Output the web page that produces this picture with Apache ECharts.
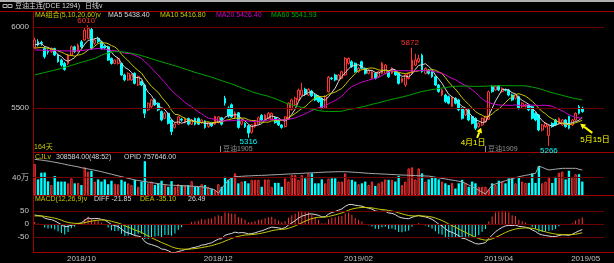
<!DOCTYPE html>
<html><head><meta charset="utf-8">
<script src="https://cdn.jsdelivr.net/npm/echarts@6/dist/echarts.min.js"></script>
<style>html,body{margin:0;padding:0;background:#000;overflow:hidden}#c{width:614px;height:263px}</style>
</head><body><div id="c"></div>
<script>
// ---------------- data ----------------
const opens = [5875,5909,5905,5868,5850,5848,5868,5827,5796,5775,5775,5827,5878,5848,5909,5920,5930,5985,5900,5930,
5909,5880,5878,5806,5775,5775,5775,5704,5673,5673,5714,5642,5663,5642,5488,5508,5550,5529,5478,5436,
5467,5426,5380,5400,5430,5410,5435,5400,5435,5435,5410,5420,5385,5405,5400,5410,5440,5560,5500,5520,
5440,5470,5400,5405,5390,5350,5385,5400,5455,5425,5435,5430,5440,5425,5395,5385,5430,5490,5520,5550,
5580,5615,5580,5605,5580,5570,5560,5500,5600,5685,5704,5673,5683,5704,5776,5786,5776,5724,5786,5745,
5714,5683,5714,5693,5714,5714,5724,5714,5724,5714,5662,5642,5683,5714,5765,5786,5826,5714,5734,5724,
5693,5642,5580,5580,5570,5510,5560,5550,5498,5457,5488,5447,5436,5385,5395,5415,5430,5632,5611,5635,
5601,5612,5611,5580,5560,5570,5508,5510,5518,5508,5467,5457,5364,5385,5330,5405,5426,5405,5395,5426,
5447,5395,5426,5508,5498];
const closes = [5920,5889,5900,5817,5845,5868,5827,5786,5765,5738,5827,5878,5848,5889,5878,5981,5992,5868,5920,5910,
5868,5870,5796,5775,5796,5806,5704,5673,5714,5704,5652,5694,5642,5467,5529,5550,5519,5488,5426,5467,
5405,5354,5400,5445,5425,5435,5400,5425,5400,5400,5425,5380,5410,5390,5447,5445,5400,5530,5450,5445,
5470,5380,5420,5385,5345,5395,5410,5440,5425,5455,5467,5467,5410,5395,5380,5445,5530,5550,5560,5610,
5611,5585,5615,5575,5550,5540,5500,5570,5690,5680,5673,5704,5724,5806,5806,5755,5724,5745,5745,5714,
5734,5724,5683,5724,5776,5765,5693,5745,5704,5652,5683,5704,5714,5796,5796,5806,5724,5745,5714,5693,
5642,5601,5611,5539,5529,5565,5529,5488,5436,5488,5426,5405,5375,5405,5436,5447,5600,5601,5632,5611,
5621,5610,5580,5549,5580,5498,5529,5518,5488,5436,5426,5364,5395,5405,5390,5385,5395,5436,5426,5385,
5375,5426,5467,5467,5478];
const lows = [5865,5880,5885,5805,5830,5840,5820,5780,5755,5730,5765,5820,5840,5845,5870,5915,5925,5860,5890,5900,
5860,5862,5790,5768,5770,5768,5698,5665,5668,5668,5645,5636,5635,5438,5480,5500,5512,5480,5418,5430,
5398,5333,5372,5395,5415,5405,5392,5395,5392,5395,5402,5372,5378,5382,5395,5405,5392,5515,5440,5440,
5432,5372,5392,5376,5316,5340,5378,5395,5418,5420,5430,5425,5402,5388,5372,5380,5425,5485,5515,5545,
5575,5575,5575,5568,5542,5532,5492,5495,5595,5672,5665,5668,5678,5700,5768,5748,5718,5718,5740,5706,
5708,5676,5676,5686,5708,5708,5686,5708,5698,5645,5655,5630,5676,5708,5758,5778,5718,5708,5706,5686,
5636,5594,5572,5532,5522,5505,5522,5480,5428,5450,5418,5398,5364,5378,5390,5410,5425,5594,5605,5604,
5595,5602,5572,5542,5552,5490,5500,5502,5480,5428,5418,5356,5356,5378,5266,5378,5388,5398,5388,5378,
5368,5388,5420,5460,5470];
const highs = [5935,5925,5915,5880,5862,5875,5872,5835,5805,5785,5835,5885,5885,5898,5920,5995,6010,5995,5930,5940,
5915,5888,5885,5812,5800,5812,5780,5712,5720,5712,5720,5700,5670,5650,5535,5556,5558,5535,5485,5475,
5472,5430,5410,5452,5440,5442,5440,5432,5440,5442,5432,5425,5415,5412,5452,5450,5445,5575,5510,5528,
5478,5475,5428,5412,5398,5402,5416,5448,5462,5462,5475,5472,5448,5430,5400,5450,5535,5558,5570,5620,
5655,5625,5622,5612,5588,5578,5565,5578,5698,5692,5712,5710,5730,5815,5812,5795,5782,5752,5792,5750,
5740,5730,5720,5730,5785,5772,5730,5752,5730,5720,5690,5710,5720,5872,5835,5830,5835,5752,5740,5730,
5700,5648,5618,5588,5576,5572,5566,5556,5505,5495,5494,5452,5442,5412,5442,5452,5608,5640,5640,5642,
5628,5620,5618,5588,5586,5576,5536,5525,5525,5514,5474,5462,5402,5412,5398,5412,5432,5442,5432,5432,
5452,5432,5474,5518,5508];
// volume, 万手
const volumes = [71.5,36,51.5,52,31.5,23,44,31,31,31,27,38.5,27,28,23,64,54,56,31,36,
31,36,25,33,26,25,35,31,27,23,35,19,31,78,27,31,23,27,33,23,
19,32,19,25,23,23,23,32,19,19,25,23,19,15,11.5,25,19,42,35,41,
50,27,31,32,27,35,35,35,19,36,36,19,28,28,19,38.5,31,46,46,35,
46,38.5,50,50,27,27,36,27,38,38.5,38.5,31,31,50,36,35,31,25,27,31,
23,31,21,27,31,36,35,35,31,44,23,31,61.5,64,36,61.5,50,31,36,42,
41,36,31,27,23,28,15,27,35,28,19,31,27,19,19,19,13,27,23,33,
31,27,38.5,38.5,27,41,31,28,28,50,28,67,27,31,42,28,42,51.5,54,36,
56,42,48,48,31];
// open interest, 万手
const openInterest = [86.0,85.6,85.2,84.8,84.3,83.8,83.2,82.6,82.0,81.3,80.6,80.0,79.4,78.8,78.0,77.4,76.8,76.2,75.6,74.9,
74.2,73.4,72.6,71.8,71.0,70.2,69.5,68.7,67.9,67.1,66.3,65.8,65.3,64.8,64.3,63.8,63.3,62.8,62.3,61.9,
61.5,61.3,61.2,61.0,60.8,60.7,60.5,60.4,60.2,60.0,59.9,59.2,58.5,57.6,56.8,53.6,58.4,62.0,66.3,68.0,
69.4,69.6,69.8,70.0,70.2,70.3,70.5,70.6,70.7,70.8,71.0,71.2,71.3,71.5,71.6,71.8,72.0,72.1,72.3,72.4,
72.6,72.8,73.0,73.1,73.3,73.5,73.6,73.8,73.9,74.0,74.1,74.2,74.2,74.2,74.0,73.8,73.6,73.4,73.2,72.9,
72.6,72.5,72.3,72.2,72.0,71.9,71.7,71.5,71.4,71.2,71.0,70.9,70.8,70.6,70.5,70.4,70.3,70.1,70.0,69.5,
68.9,68.4,67.8,67.3,66.7,66.2,65.7,65.1,64.6,63.1,61.5,59.9,58.3,56.5,54.7,52.9,57.2,61.5,62.5,63.6,
64.6,65.6,66.5,67.5,68.5,69.4,70.1,70.7,71.3,72.0,72.6,79.6,78.3,77.0,75.8,76.2,76.6,77.0,77.4,77.4,
77.4,77.4,77.4,76.5,75.76];
// moving-average values read before a full window exists
const ma5Head = [5890,5895,5898,5880];
const ma10Head = [5870,5872,5874,5872,5868,5865,5860,5852,5845];
const ma20Head = [5858,5858,5857,5857,5856,5855,5855,5854,5853,5853,5852,5852,5853,5854,5855,5857,5860,5863,5866];
const ma60Head = [5704,5709,5714,5719,5724,5729,5734,5739,5745,5751,5757,5763,5769,5776,5782,5788,5794,5800,5806,5816,
5826,5834,5840,5845,5848,5848,5847,5845,5842,5838,5834,5829,5823,5817,5811,5804,5798,5791,5785,5779,
5773,5767,5761,5755,5748,5741,5734,5727,5720,5714,5708,5702,5696,5690,5683,5676,5669,5662,5655];
// EMA12, EMA26, DEA state before the first bar
const macdSeed = [5880,5846,30];
const priceTicks = [6000,5500];
const volTicks = [40];
const macdTicks = [50,0,-50];
const monthLabels = ['2018/10','2018/12','2019/02','2019/04','2019/05'];
const monthLabelIdx = [14,55,97,139,165];
const totalSlots = 171;

// ---------------- derived indicators ----------------
function ma(n, head){
  return closes.map((c,i)=>{
    if(i < n-1) return head[i];
    let s=0; for(let k=i-n+1;k<=i;k++) s+=closes[k];
    return +(s/n).toFixed(2);
  });
}
const ma5=ma(5,ma5Head), ma10=ma(10,ma10Head), ma20=ma(20,ma20Head), ma60=ma(60,ma60Head);
const diffArr=[], deaArr=[], histArr=[];
(function(){
  let e12=macdSeed[0], e26=macdSeed[1], dea=macdSeed[2];
  closes.forEach(c=>{
    e12=e12*11/13+c*2/13; e26=e26*25/27+c*2/27;
    const d=e12-e26; dea=dea*0.8+d*0.2;
    diffArr.push(+d.toFixed(2)); deaArr.push(+dea.toFixed(2)); histArr.push(+(2*(d-dea)).toFixed(2));
  });
})();

const cats = Array.from({length: totalSlots}, (_,i)=>String(i));
const UP='#ff3232', DN='#00ffff', GRID='#6e0000', AX='#a00000';
const FONT='"Liberation Sans","Noto Sans CJK SC",sans-serif';
const SF = '7px '+FONT;

const chart = echarts.init(document.getElementById('c'), null, {renderer:'canvas'});
const hline = (vals, fmt) => ({
  silent:true, symbol:['none','none'], animation:false,
  lineStyle:{color:GRID, type:'solid', width:1},
  label:{show:true, position:'start', color:'#c8c8c8', fontSize:8, fontFamily:FONT, distance:4, formatter:p=>fmt(p.value)},
  data: vals.map(v=>({yAxis:v}))
});
const xAx = (gi, showLabel) => ({
  type:'category', gridIndex:gi, data:cats, boundaryGap:true,
  axisLine:{show:false}, axisTick:{show:false}, splitLine:{show:false},
  axisLabel: showLabel ? {
    show:true, color:'#c0c0c0', fontSize:8, fontFamily:FONT, margin:3,
    interval:(idx)=>monthLabelIdx.includes(idx),
    formatter:(v,idx)=>{const k=monthLabelIdx.indexOf(idx); return k>=0?monthLabels[k]:'';}
  } : {show:false}
});
const yAx = (gi, min, max, extra) => Object.assign({
  type:'value', gridIndex:gi, min, max, scale:false,
  axisLine:{show:true, lineStyle:{color:AX}}, axisTick:{show:false},
  axisLabel:{show:false}, splitLine:{show:false}
}, extra||{});

const option = {
  animation:false, backgroundColor:'#000',
  grid:[
    {left:33, right:10, top:12, height:140},
    {left:33, right:10, top:153, height:42},
    {left:33, right:10, top:196, height:56}
  ],
  xAxis:[xAx(0,false), xAx(1,false), xAx(2,true)],
  yAxis:[
    yAx(0, 5228, 6093),
    yAx(1, 0, 97),
    yAx(1, 52, 92, {axisLine:{show:false}}),
    yAx(2, -108, 108)
  ],
  series:[
    {type:'candlestick', xAxisIndex:0, yAxisIndex:0, barWidth:'70%',
     data: opens.map((o,i)=>[o, closes[i], lows[i], highs[i]]),
     itemStyle:{color:'#000', color0:DN, borderColor:UP, borderColor0:DN, borderWidth:1},
     markLine: hline(priceTicks, v=>String(v))},
    {type:'line', name:'MA5', xAxisIndex:0, yAxisIndex:0, data:ma5, symbol:'none', lineStyle:{color:'#d8d8d8', width:1}},
    {type:'line', name:'MA10', xAxisIndex:0, yAxisIndex:0, data:ma10, symbol:'none', lineStyle:{color:'#c8c800', width:1}},
    {type:'line', name:'MA20', xAxisIndex:0, yAxisIndex:0, data:ma20, symbol:'none', lineStyle:{color:'#d000d0', width:1}},
    {type:'line', name:'MA60', xAxisIndex:0, yAxisIndex:0, data:ma60, symbol:'none', lineStyle:{color:'#00a800', width:1}},
    {type:'bar', xAxisIndex:1, yAxisIndex:1, barWidth:'70%',
     data: volumes.map((v,i)=>({value:v, itemStyle: closes[i]>=opens[i] ? {color:'#000', borderColor:UP, borderWidth:1} : {color:DN}})),
     markLine: hline(volTicks, v=>v+'万')},
    {type:'line', xAxisIndex:1, yAxisIndex:2, data:openInterest, symbol:'none', lineStyle:{color:'#a8a8a8', width:1}},
    {type:'bar', xAxisIndex:2, yAxisIndex:3, barWidth:1,
     data: histArr.map(v=>({value:v, itemStyle:{color: v>=0?UP:DN}})),
     markLine: hline(macdTicks, v=>String(v))},
    {type:'line', xAxisIndex:2, yAxisIndex:3, data:diffArr, symbol:'none', lineStyle:{color:'#d8d8d8', width:1}},
    {type:'line', xAxisIndex:2, yAxisIndex:3, data:deaArr, symbol:'none', lineStyle:{color:'#c8c800', width:1}}
  ]
};
chart.setOption(option);

// ---------------- text and annotations ----------------
const T = (x,y,text,fill,align,va,font) => ({type:'text', x, y, silent:true,
  style:{text, fill, font:font||SF, verticalAlign:va||'middle', align:align||'left'}});
const L = (x1,y1,x2,y2,stroke,w) => ({type:'line', silent:true, shape:{x1,y1,x2,y2}, style:{stroke, lineWidth:w||1}});
const px = (i,v) => chart.convertToPixel({xAxisIndex:0, yAxisIndex:0}, [i,v]);

function extremeIdx(from,to,kind){
  let best=from;
  for(let i=from;i<=to;i++){
    if(kind==='max' ? highs[i]>highs[best] : lows[i]<lows[best]) best=i;
  }
  return best;
}
const g = [
  {type:'rect', shape:{x:0,y:0,width:614,height:2}, style:{fill:'#b0b0b0'}, silent:true},
  L(0,11.5,614,11.5,AX), L(33,152.5,614,152.5,AX), L(33,195.5,614,195.5,AX), L(33,252.5,614,252.5,AX),
  {type:'rect', silent:true, shape:{x:3,y:4.5,width:4,height:3}, style:{fill:'none', stroke:'#b0b0b0', lineWidth:1}},
  {type:'rect', silent:true, shape:{x:8,y:4.5,width:4,height:3}, style:{fill:'none', stroke:'#b0b0b0', lineWidth:1}},
  T(15,6.5,'豆油主连(DCE 1294)','#d8d8d8'),
  T(85,6.5,'日线v','#d8d8d8'),
  T(35,15,'MA组合(5,10,20,60)v','#c8c800'),
  T(108,15,'MA5 5438.40','#d8d8d8'),
  T(160,15,'MA10 5416.80','#c8c800'),
  T(216,15,'MA20 5426.40','#d000d0'),
  T(271,15,'MA60 5541.93','#00b000'),
  T(34,147,'164天','#c8c800'),
  L(220.5,146,220.5,152,'#909090'), T(223,149.5,'豆油1905','#909090'),
  L(485.5,146,485.5,152,'#909090'), T(488,149.5,'豆油1909','#909090'),
  T(35,157,'CJLv','#c8c800'),
  T(56,157,'308584.00(48:52)','#d8d8d8'),
  T(124,157,'OPID 757646.00','#d8d8d8'),
  T(35,199.5,'MACD(12,26,9)v','#c8c800'),
  T(94,199.5,'DIFF -21.85','#d8d8d8'),
  T(140,199.5,'DEA -35.10','#c8c800'),
  T(188,199.5,'26.49','#d8d8d8')
];
// price extremes
[[0,60,'max'],[60,100,'min'],[100,130,'max'],[130,164,'min']].forEach(([a,b,k])=>{
  const i=extremeIdx(a,b,k);
  const v = k==='max'?highs[i]:lows[i];
  const p = px(i,v);
  if(k==='max') g.push(T(p[0]-2,p[1]-1,String(v),UP,'center','bottom','8px '+FONT));
  else g.push(T(p[0],p[1]+0.5,String(v),DN,'center','top','8px '+FONT));
});
// date arrows
function arrow(x1,y1,x2,y2,col){
  const ang=Math.atan2(y2-y1,x2-x1), h=5, w=3;
  const bx=x2-h*Math.cos(ang), by=y2-h*Math.sin(ang);
  g.push(L(x1,y1,bx,by,col,2));
  g.push({type:'polygon', silent:true, shape:{points:[[x2,y2],[bx+w*Math.sin(ang),by-w*Math.cos(ang)],[bx-w*Math.sin(ang),by+w*Math.cos(ang)]]}, style:{fill:col}});
}
const a1 = px(134, lows[134]);
arrow(a1[0]-5, a1[1]+12, a1[0]-1, a1[1]+2, '#ffff00');
g.push(T(a1[0]-9, a1[1]+17.5, '4月1日', '#ffff00', 'center', 'middle', '8px '+FONT));
const a2 = px(164, lows[164]);
arrow(a2[0]+10, a2[1]+20, a2[0]-2, a2[1]+11, '#ffff00');
g.push(T(a2[0]-2, a2[1]+27, '5月15日', '#ffff00', 'left', 'middle', '8px '+FONT));
chart.setOption({graphic:g});
</script></body></html>
